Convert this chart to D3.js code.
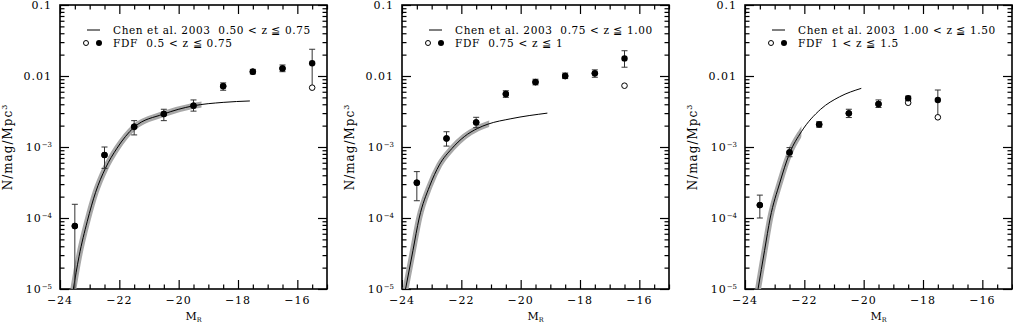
<!DOCTYPE html>
<html>
<head>
<meta charset="utf-8">
<script src="https://cdn.jsdelivr.net/npm/d3@7"></script>
<style>
  body { margin: 0; background: #fff; }
  svg { display: block; }
  text { font-family: "DejaVu Serif", serif; fill: #000; }
  .legend text { white-space: pre; }
</style>
</head>
<body>
<svg id="lf-chart" width="1013" height="327"></svg>
<script>
'use strict';

// magnitude bins, one array per redshift slice
var mags1 = [-23.5, -22.5, -21.5, -20.5, -19.5, -18.5, -17.5, -16.5, -15.5];
var phi1 = [7.7e-5, 7.7e-4, 1.93e-3, 2.92e-3, 3.82e-3, 7.2e-3, 1.15e-2, 1.28e-2, 1.51e-2];
var lo1 = [1e-6, 5.0e-4, 1.48e-3, 2.35e-3, 3.2e-3, 6.3e-3, 1.07e-2, 1.15e-2, 6.85e-3];
var hi1 = [1.56e-4, 1.0e-3, 2.35e-3, 3.4e-3, 4.6e-3, 8.0e-3, 1.24e-2, 1.43e-2, 2.38e-2];
var open1 = [7.7e-5, 7.7e-4, 1.93e-3, 2.92e-3, 3.82e-3, 7.2e-3, 1.15e-2, 1.28e-2, 6.85e-3];

var mags2 = [-23.5, -22.5, -21.5, -20.5, -19.5, -18.5, -17.5, -16.5];
var phi2 = [3.14e-4, 1.32e-3, 2.22e-3, 5.57e-3, 8.2e-3, 1.0e-2, 1.09e-2, 1.77e-2];
var lo2 = [1.75e-4, 1.03e-3, 1.87e-3, 5.0e-3, 7.5e-3, 9.2e-3, 9.6e-3, 1.33e-2];
var hi2 = [4.5e-4, 1.64e-3, 2.62e-3, 6.2e-3, 9.0e-3, 1.1e-2, 1.22e-2, 2.27e-2];
var open2 = [3.14e-4, 1.32e-3, 2.22e-3, 5.57e-3, 8.2e-3, 1.0e-2, 1.09e-2, 7.3e-3];

var mags3 = [-23.5, -22.5, -21.5, -20.5, -19.5, -18.5, -17.5];
var phi3 = [1.52e-4, 8.4e-4, 2.08e-3, 2.98e-3, 4.03e-3, 4.85e-3, 4.6e-3];
var lo3 = [1.0e-4, 7.3e-4, 1.9e-3, 2.6e-3, 3.6e-3, 4.5e-3, 2.62e-3];
var hi3 = [2.1e-4, 9.8e-4, 2.27e-3, 3.4e-3, 4.6e-3, 5.2e-3, 6.35e-3];
var open3 = [1.52e-4, 8.4e-4, 2.08e-3, 2.98e-3, 4.03e-3, 4.2e-3, 2.62e-3];

// Chen et al. 2003 curves
var chen1M = [-23.55, -23.36, -23.08, -22.8, -22.47, -22.08, -21.5, -20.52, -19.51, -18.5, -17.6];
var chen1Phi = [1.0e-5, 2.85e-5, 9.0e-5, 2.3e-4, 5.0e-4, 9.6e-4, 1.9e-3, 2.9e-3, 3.8e-3, 4.25e-3, 4.45e-3];
var chen2M = [-23.88, -23.63, -23.42, -23.07, -22.74, -22.32, -21.9, -21.45, -21.1, -20.33, -19.1];
var chen2Phi = [1.0e-5, 3.5e-5, 1.0e-4, 2.8e-4, 5.6e-4, 9.5e-4, 1.4e-3, 1.83e-3, 2.1e-3, 2.5e-3, 3.0e-3];
var chen3M = [-23.56, -23.34, -23.15, -22.83, -22.5, -22.1, -21.45, -20.81, -20.08];
var chen3Phi = [1.0e-5, 3.5e-5, 1.0e-4, 3.1e-4, 8.1e-4, 1.64e-3, 3.4e-3, 5.1e-3, 6.7e-3];
var bandEnds = [-19.23, -21.06, -22.1];

var chenLabels = ['Chen et al. 2003  0.50 < z \u2266 0.75', 'Chen et al. 2003  0.75 < z \u2266 1.00', 'Chen et al. 2003  1.00 < z \u2266 1.50'];
var fdfLabels = ['FDF  0.5 < z \u2266 0.75', 'FDF  0.75 < z \u2266 1', 'FDF  1 < z \u2266 1.5'];

var xMajor = [-24, -22, -20, -18, -16];
var yMajor = [1e-5, 1e-4, 1e-3, 1e-2, 1e-1];

var svg = d3.select('#lf-chart');
var panelLeft = [60, 402, 745];
var panelW = 267;
var plotTop = 5, plotBottom = 289;

function buildPanel(i, mags, phi, lo, hi, open, chenM, chenPhi) {
    var h = plotBottom - plotTop;
    var x = d3.scaleLinear().domain([-24, -15]).range([0, panelW]);
    var y = d3.scaleLog().domain([1e-5, 0.1]).range([h, 0]);

    var g = svg.append('g').attr('transform', 'translate(' + panelLeft[i] + ',' + plotTop + ')');

    var clipId = 'clip' + i;
    g.append('clipPath').attr('id', clipId)
        .append('rect').attr('width', panelW).attr('height', h);
    var bandClip = 'band' + i;
    g.append('clipPath').attr('id', bandClip)
        .append('rect').attr('width', x(bandEnds[i])).attr('height', h);

    var xMinor = d3.range(-24, -14.9, 0.5).filter(function(v) { return xMajor.indexOf(v) < 0; });
    var yMinor = [];
    [1e-5, 1e-4, 1e-3, 1e-2].forEach(function(d) {
        for (var k = 2; k <= 9; k++) yMinor.push(d * k);
    });

    function tickAxis(axis, vals, size, tr) {
        var a = g.append('g').attr('transform', tr || null)
            .call(axis.tickValues(vals).tickSize(size).tickFormat(''));
        a.select('.domain').remove();
        a.selectAll('line').attr('stroke', '#000').attr('stroke-width', 1.2);
    }
    tickAxis(d3.axisBottom(x), xMajor, -9, 'translate(0,' + h + ')');
    tickAxis(d3.axisBottom(x), xMinor, -4.5, 'translate(0,' + h + ')');
    tickAxis(d3.axisTop(x), xMajor, -9);
    tickAxis(d3.axisTop(x), xMinor, -4.5);
    tickAxis(d3.axisLeft(y), yMajor, -9);
    tickAxis(d3.axisLeft(y), yMinor, -4.5);
    tickAxis(d3.axisRight(y), yMajor, -9, 'translate(' + panelW + ',0)');
    tickAxis(d3.axisRight(y), yMinor, -4.5, 'translate(' + panelW + ',0)');

    g.append('rect')
        .attr('width', panelW).attr('height', h)
        .attr('fill', 'none').attr('stroke', '#000').attr('stroke-width', 1.6);

    // tick labels
    g.append('g').selectAll('text').data(xMajor).enter().append('text')
        .attr('x', function(d) { return x(d); }).attr('y', h + 15)
        .attr('text-anchor', 'middle')
        .style('font-size', '11px').style('letter-spacing', '1px')
        .text(function(d) { return '\u2212' + Math.abs(d); });

    var yl = g.append('g').selectAll('text').data(yMajor).enter().append('text')
        .attr('x', -8).attr('y', function(d) { return y(d) + 4; })
        .attr('text-anchor', 'end')
        .style('font-size', '11px').style('letter-spacing', '1px');
    yl.each(function(d) {
        var t = d3.select(this);
        if (d >= 0.01) {
            t.text(d === 0.1 ? '0.1' : '0.01');
        } else {
            t.append('tspan').text('10');
            t.append('tspan').attr('dy', -4).style('font-size', '7px').style('letter-spacing', '0px')
                .text('\u2212' + Math.round(-Math.log10(d)));
        }
    });

    // axis titles
    var xt = g.append('text').attr('x', panelW / 2).attr('y', h + 31)
        .attr('text-anchor', 'middle').style('font-size', '11px');
    xt.append('tspan').text('M');
    xt.append('tspan').attr('dy', 2).style('font-size', '6.5px').text('R');

    var yt = g.append('text')
        .attr('transform', 'translate(-48,' + (h / 2) + ') rotate(-90)')
        .attr('text-anchor', 'middle')
        .style('font-size', '12px').style('letter-spacing', '1px');
    yt.append('tspan').text('N/mag/Mpc');
    yt.append('tspan').attr('dy', -5).style('font-size', '8px').text('3');

    // Chen curve with uncertainty band
    var chen = chenM.map(function(m, k) { return [m, chenPhi[k]]; });
    var line = d3.line()
        .x(function(d) { return x(d[0]); })
        .y(function(d) { return y(d[1]); })
        .curve(d3.curveMonotoneX);
    var cg = g.append('g').attr('clip-path', 'url(#' + clipId + ')');
    cg.append('g').attr('clip-path', 'url(#' + bandClip + ')')
        .append('path').attr('d', line(chen))
        .attr('fill', 'none').attr('stroke', '#a8a8a8').attr('stroke-width', 6);
    cg.append('path').attr('d', line(chen))
        .attr('fill', 'none').attr('stroke', '#000').attr('stroke-width', 1);

    // FDF points
    var pts = mags.map(function(m, k) {
        return { m: m, phi: phi[k], lo: lo[k], hi: hi[k], open: open[k] };
    });
    var pg = g.append('g').attr('clip-path', 'url(#' + clipId + ')');
    var eb = pg.selectAll('.err').data(pts).enter().append('g').attr('class', 'err')
        .attr('stroke', '#333').attr('stroke-width', 1);
    eb.append('line')
        .attr('x1', function(d) { return x(d.m); }).attr('x2', function(d) { return x(d.m); })
        .attr('y1', function(d) { return y(d.lo); }).attr('y2', function(d) { return y(d.hi); });
    eb.append('line')
        .attr('x1', function(d) { return x(d.m) - 3; }).attr('x2', function(d) { return x(d.m) + 3; })
        .attr('y1', function(d) { return y(d.hi); }).attr('y2', function(d) { return y(d.hi); });
    eb.filter(function(d) { return d.lo !== d.open || d.open === d.phi; }).append('line')
        .attr('x1', function(d) { return x(d.m) - 3; }).attr('x2', function(d) { return x(d.m) + 3; })
        .attr('y1', function(d) { return y(d.lo); }).attr('y2', function(d) { return y(d.lo); });

    pg.selectAll('.open').data(pts).enter().append('circle')
        .attr('cx', function(d) { return x(d.m); })
        .attr('cy', function(d) { return y(d.open); })
        .attr('r', 2.8).attr('fill', '#fff').attr('stroke', '#000').attr('stroke-width', 1);
    pg.selectAll('.fill').data(pts).enter().append('circle')
        .attr('cx', function(d) { return x(d.m); })
        .attr('cy', function(d) { return y(d.phi); })
        .attr('r', 3.2).attr('fill', '#000');

    // legend
    var lg = g.append('g').attr('class', 'legend');
    lg.append('line').attr('x1', 27).attr('x2', 40).attr('y1', 25).attr('y2', 25)
        .attr('stroke', '#000').attr('stroke-width', 1);
    lg.append('text').attr('x', 53).attr('y', 29)
        .style('font-size', '10.5px').style('letter-spacing', '0.6px').text(chenLabels[i]);
    lg.append('circle').attr('cx', 26).attr('cy', 38).attr('r', 2.5)
        .attr('fill', '#fff').attr('stroke', '#000');
    lg.append('circle').attr('cx', 39).attr('cy', 38).attr('r', 3).attr('fill', '#000');
    lg.append('text').attr('x', 53).attr('y', 42)
        .style('font-size', '10.5px').style('letter-spacing', '0.7px').text(fdfLabels[i]);
}

buildPanel(0, mags1, phi1, lo1, hi1, open1, chen1M, chen1Phi);
buildPanel(1, mags2, phi2, lo2, hi2, open2, chen2M, chen2Phi);
buildPanel(2, mags3, phi3, lo3, hi3, open3, chen3M, chen3Phi);
</script>
</body>
</html>
